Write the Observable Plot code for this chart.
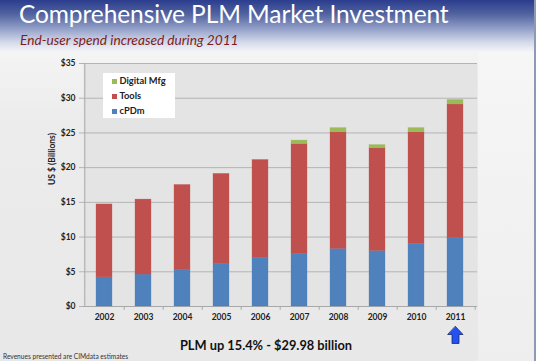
<!DOCTYPE html>
<html>
<head>
<meta charset="utf-8">
<script src="https://cdn.jsdelivr.net/npm/d3@7"></script>
<script src="https://cdn.jsdelivr.net/npm/@observablehq/plot@0.6"></script>
<style>
  html, body { margin: 0; padding: 0; }
  body { width: 536px; height: 361px; overflow: hidden; font-family: Lato, "Open Sans", sans-serif; }
  #slide {
    position: relative; width: 536px; height: 361px; overflow: hidden;
    background: linear-gradient(to bottom, #2b3d8d 0px, #51639f 14px, #8f9cc6 28px, #d3d9ea 42px, #eef0f5 50px, #f4f4f4 52px, #ececec 120px, #e8e8e8 361px);
  }
  #rightpanel { position: absolute; left: 478px; top: 52px; width: 56px; height: 309px; background: linear-gradient(to bottom, #f6f6f6, #eeeeee); }
  #border { position: absolute; left: 534px; top: 0; width: 2px; height: 361px; background: #8d99b5; }
  #title { position: absolute; left: 19px; top: 0px; line-height: 28px; color: #ffffff; font-size: 24.5px; font-family: Lato, sans-serif; letter-spacing: -0.1px; white-space: nowrap; }
  #subtitle { position: absolute; left: 20px; top: 31px; color: #7d1c1c; font-size: 13.7px; font-style: italic; font-family: Lato, sans-serif; white-space: nowrap; }
  #chart { position: absolute; left: 0; top: 50px; }
  #legend { position: absolute; left: 103px; top: 73px; width: 72px; height: 45px; background: #ffffff; font-size: 9.3px; font-weight: bold; color: #222; }
  .li { position: absolute; left: 9px; height: 11px; line-height: 11px; white-space: nowrap; }
  .sw { display: inline-block; width: 5px; height: 5px; margin-right: 2.5px; vertical-align: 0.5px; }
  #headline { position: absolute; left: 0; width: 532px; top: 337px; text-align: center; font-size: 12.8px; color: #111; white-space: nowrap; }
  #headline b { font-weight: 700; }
  #foot { position: absolute; left: 3px; top: 352px; font-size: 6.6px; color: #333; white-space: nowrap; }
</style>
</head>
<body>
<div id="slide">
  <div id="rightpanel"></div>
  <div id="border"></div>
  <div id="title"></div>
  <div id="subtitle"></div>
  <div id="chart"></div>
  <div id="legend"></div>
  <div id="headline"></div>
  <div id="foot"></div>
</div>
<script>
// ---- data ----
const years = [2002, 2003, 2004, 2005, 2006, 2007, 2008, 2009, 2010, 2011];
const cPDm = [4.2, 4.6, 5.3, 6.1, 7.0, 7.6, 8.3, 8.0, 9.0, 9.9];
const tools = [10.5, 10.8, 12.2, 13.0, 14.1, 15.8, 16.8, 14.8, 16.1, 19.2];
const digitalMfg = [0, 0, 0, 0, 0, 0.5, 0.6, 0.45, 0.6, 0.65];
const seriesNames = ["cPDm", "Tools", "Digital Mfg"];
const seriesColors = ["#4f81bd", "#c0504d", "#9bbb59"];
const yTicks = [0, 5, 10, 15, 20, 25, 30, 35];
const highlightYear = 2011;
const titleText = "Comprehensive PLM Market Investment";
const subtitleText = "End-user spend increased during 2011";
const yLabel = "US $ (Billions)";
const headlineText = "PLM up 15.4% - $29.98 billion";
const footText = "Revenues presented are CIMdata estimates";

document.getElementById("title").textContent = titleText;
document.getElementById("subtitle").textContent = subtitleText;
document.getElementById("headline").innerHTML = "<b>" + headlineText + "</b>";
document.getElementById("foot").textContent = footText;

// legend (top to bottom: Digital Mfg, Tools, cPDm)
const legend = document.getElementById("legend");
[...seriesNames].reverse().forEach((name, i) => {
  const idx = seriesNames.indexOf(name);
  const row = document.createElement("div");
  row.className = "li";
  row.style.top = (2 + i * 15) + "px";
  row.innerHTML = `<span class="sw" style="background:${seriesColors[idx]}"></span>${name}`;
  legend.appendChild(row);
});

const seriesValues = [cPDm, tools, digitalMfg];
const data = [];
seriesNames.forEach((s, si) => years.forEach((y, i) => data.push({year: y, series: s, value: seriesValues[si][i]})));

const W = 536, H = 311;
const chart = Plot.plot({
  width: W, height: H,
  marginLeft: 83, marginRight: 59, marginTop: 13, marginBottom: 55,
  style: {background: "transparent", fontFamily: "Lato, sans-serif", fontSize: "8.5px", fontWeight: "bold", color: "#222"},
  x: {domain: years, paddingInner: 0.58, paddingOuter: 0.29, label: null, tickFormat: d => `${d}`, tickSize: 0, tickPadding: 7},
  y: {domain: [0, 35], ticks: yTicks, tickFormat: d => `$${d}`, label: null, tickSize: 0, tickPadding: 8},
  color: {domain: seriesNames, range: seriesColors},
  marks: [
    Plot.frame({fill: "#e4e4e4", stroke: null}),
    Plot.ruleY(yTicks, {stroke: "#b4b4b4", strokeWidth: 1, insetLeft: -4}),
    Plot.ruleX([years[0]], {stroke: "#a8a8a8", dx: -19.7, y1: 0, y2: 35}),
    Plot.ruleX(years, {x: d => d, y1: 0, y2: -0.55, dx: 19.7, stroke: "#a8a8a8"}),
    Plot.ruleY([0], {stroke: "#a8a8a8"}),
    Plot.barY(data, {x: "year", y: "value", fill: "series", order: seriesNames, stroke: "series", strokeOpacity: 0.6, strokeWidth: 0.5}),
    Plot.vector([highlightYear], {
      x: d => d, frameAnchor: "bottom", dy: 37, anchor: "start", length: 17,
      fill: "#2452f0", stroke: "#1b2a66", strokeWidth: 0.8,
      shape: {draw(ctx, l) {
        const hw = 7.5, sw = 3.5, head = 8;
        ctx.moveTo(0, -l);
        ctx.lineTo(hw, -l + head);
        ctx.lineTo(sw, -l + head);
        ctx.lineTo(sw, 0);
        ctx.lineTo(-sw, 0);
        ctx.lineTo(-sw, -l + head);
        ctx.lineTo(-hw, -l + head);
        ctx.closePath();
      }}
    }),
    Plot.text([yLabel], {frameAnchor: "left", text: d => d, rotate: -90, dx: -31, dy: 0, fontSize: 8.5, fontWeight: "bold", fill: "#222"})
  ]
});
document.getElementById("chart").appendChild(chart);
</script>
</body>
</html>
